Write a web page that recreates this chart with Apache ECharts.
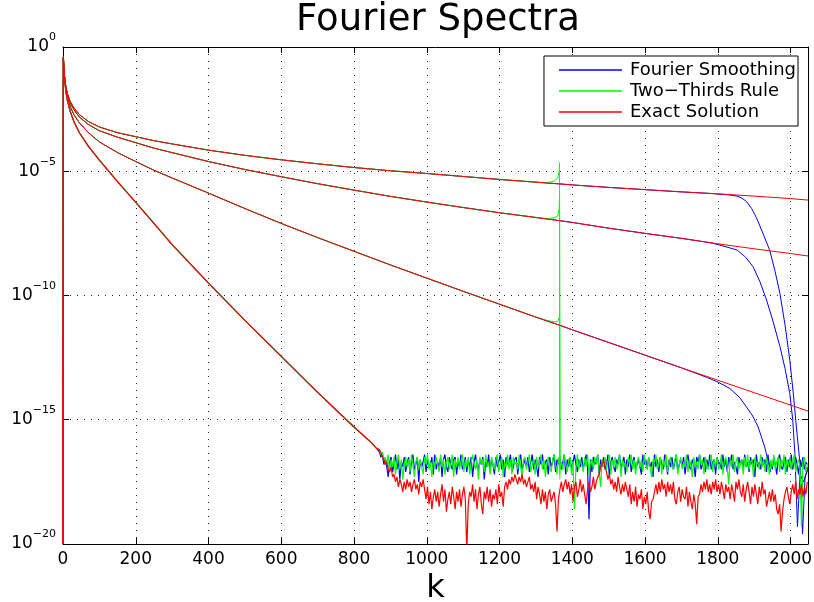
<!DOCTYPE html>
<html><head><meta charset="utf-8">
<script src="https://cdn.jsdelivr.net/npm/echarts@6/dist/echarts.min.js"></script>
<style>html,body{margin:0;padding:0;background:#fff}#c{width:814px;height:602px}</style>
</head><body><div id="c"></div>
<script>
// ---- data (values stored as log10 of the spectral magnitude) ----
const seriesNames = ['Fourier Smoothing', 'Two\u2212Thirds Rule', 'Exact Solution'];
const xTickValues = [0, 200, 400, 600, 800, 1000, 1200, 1400, 1600, 1800, 2000];
const yTickExponents = [0, -5, -10, -15, -20];

const kExact = [0,1,2,3,5,8,12,20,30,45,70,100,150,200,250,300,400,500,600,700,800,900,1000,1100,1200,1300,1366,1400,1500,1600,1700,1800,1900,2000,2048];
const exactA = [-20,-0.4,-0.72,-0.95,-1.3,-1.6,-1.88,-2.2,-2.45,-2.72,-3.0,-3.22,-3.45,-3.61,-3.77,-3.9,-4.15,-4.36,-4.54,-4.70,-4.85,-4.98,-5.09,-5.21,-5.33,-5.44,-5.51,-5.55,-5.65,-5.74,-5.83,-5.91,-6.0,-6.1,-6.16];
const exactB = [-20,-0.4,-0.73,-0.97,-1.32,-1.62,-1.91,-2.25,-2.52,-2.82,-3.12,-3.37,-3.63,-3.85,-4.07,-4.25,-4.61,-4.93,-5.22,-5.5,-5.76,-6.01,-6.24,-6.46,-6.67,-6.86,-6.99,-7.06,-7.29,-7.5,-7.7,-7.92,-8.12,-8.31,-8.41];
const exactC = [-20,-0.4,-0.74,-0.98,-1.36,-1.7,-2.0,-2.4,-2.72,-3.05,-3.45,-3.82,-4.25,-4.61,-4.96,-5.27,-5.88,-6.5,-7.10,-7.67,-8.22,-8.77,-9.30,-9.83,-10.35,-10.87,-11.2,-11.38,-11.89,-12.4,-12.91,-13.41,-13.91,-14.41,-14.65];

const kD = [0,1,2,3,5,8,12,20,30,45,70,100,150,200,250,300,400,500,600,700,800,850,862];
const exactD = [-20,-0.4,-0.75,-1.0,-1.4,-1.8,-2.15,-2.6,-3.0,-3.45,-4.0,-4.55,-5.42,-6.25,-7.1,-7.95,-9.5,-11.0,-12.45,-13.9,-15.29,-15.95,-16.15];

// Fourier smoothing roll-off tails
const kBlueTailA = [1830,1853,1866,1879,1893,1906,1925,1943,1957,1971,1985,1998,2008,2016,2027,2033,2040,2048];
const blueTailA  = [-5.95,-6.0,-6.08,-6.22,-6.5,-6.86,-7.53,-8.19,-9.0,-9.93,-11.2,-12.6,-14.0,-15.29,-16.9,-19.6,-17.3,-17.0];
const kBlueTailB = [1750,1787,1820,1853,1876,1897,1916,1934,1952,1971,1985,1998,2006,2012,2019,2026,2036,2048];
const blueTailB  = [-7.81,-7.9,-8.03,-8.17,-8.45,-8.84,-9.45,-10.18,-11.05,-12.06,-12.95,-13.94,-15.0,-16.35,-19.3,-17.2,-17.5,-16.9];
const kBlueTailC = [1735,1769,1800,1833,1860,1879,1896,1911,1929,1938,1946];
const blueTailC  = [-13.1,-13.29,-13.48,-13.74,-14.1,-14.49,-14.85,-15.29,-16.1,-16.63,-17.1];

// Two-thirds rule cut-off tails
const kGreenTail = [1330,1350,1360,1364,1365,1366];
const greenTailA = [-5.46,-5.4,-5.28,-5.0,-4.65,-17.0];
const greenTailB = [-6.9,-6.88,-6.8,-6.5,-6.02,-17.2];
const greenTailC = [-11.0,-11.06,-11.04,-10.98,-10.85,-17.4];

// round-off noise floor, k = 870, 874, ... (step 4)
const noiseK0 = 870, noiseStep = 4;
const blueNoise = [
 -16.3,-16.5,-16.4,-16.8,-16.6,-16.9,-17.3,-16.7,-16.5,-17.1,
 -16.8,-16.4,-17.0,-16.6,-17.4,-16.7,-16.9,-16.5,-17.1,-16.8,
 -16.5,-17.2,-16.7,-16.4,-17.0,-16.8,-16.5,-17.5,-16.6,-16.9,
 -16.7,-16.4,-17.1,-16.6,-16.9,-16.8,-16.5,-17.2,-16.4,-17.0,
 -16.7,-16.9,-16.5,-17.3,-16.6,-16.4,-16.9,-17.1,-16.5,-16.8,
 -17.0,-16.6,-16.5,-17.2,-16.7,-16.9,-16.4,-17.0,-16.8,-16.5,
 -17.1,-16.6,-16.9,-16.5,-17.3,-16.7,-16.4,-16.9,-17.0,-16.6,
 -16.8,-16.5,-17.4,-16.7,-16.9,-16.4,-17.1,-16.6,-16.8,-17.2,
 -16.5,-16.9,-16.7,-16.4,-17.0,-16.6,-17.3,-16.5,-16.8,-16.7,
 -16.4,-17.1,-16.9,-16.6,-16.5,-17.2,-16.7,-16.4,-17.0,-16.8,
 -16.6,-16.9,-16.5,-17.1,-16.7,-16.4,-17.0,-16.6,-16.9,-17.3,
 -16.5,-16.8,-16.4,-17.0,-16.7,-16.6,-17.2,-16.5,-16.9,-16.7,
 -16.4,-17.1,-16.6,-16.8,-16.5,-17.0,-16.7,-16.4,-17.2,-16.6,
 -16.9,-16.5,-17.0,-16.7,-16.4,-16.8,-17.1,-16.6,-16.9,-16.5,
 -17.0,-16.7,-16.4,-16.9,-19.0,-16.6,-17.1,-16.5,-16.8,-16.7,
 -16.4,-17.2,-16.6,-16.9,-16.5,-17.0,-16.8,-16.4,-17.3,-16.7,
 -16.5,-16.9,-17.1,-16.6,-16.8,-16.4,-17.0,-16.7,-16.5,-17.2,
 -16.6,-16.9,-16.4,-17.1,-16.7,-16.5,-17.0,-16.8,-16.6,-16.9,
 -17.2,-16.4,-16.8,-16.6,-17.0,-16.5,-16.9,-16.7,-17.3,-16.4,
 -16.9,-16.6,-17.1,-16.5,-16.8,-17.0,-16.4,-16.7,-17.2,-16.6,
 -16.9,-16.5,-17.0,-16.7,-16.4,-17.1,-16.8,-16.6,-16.9,-16.5,
 -17.2,-16.7,-16.4,-16.9,-17.0,-16.6,-16.8,-17.3,-16.5,-16.7,
 -16.4,-17.0,-16.8,-16.5,-17.1,-16.6,-16.9,-16.4,-17.0,-16.7,
 -16.6,-17.2,-16.5,-16.8,-16.7,-17.0,-16.4,-16.9,-16.6,-17.1,
 -16.5,-16.8,-16.4,-17.0,-16.7,-16.9,-17.2,-16.5,-16.8,-16.6,
 -17.0,-16.4,-16.9,-16.7,-17.1,-16.5,-16.8,-16.6,-17.3,-16.4,
 -16.9,-16.7,-17.0,-16.5,-16.8,-16.6,-17.1,-16.4,-16.9,-16.7,
 -17.0,-16.5,-16.8,-17.2,-16.6,-16.4,-16.9,-17.0,-16.7,-16.5,
 -17.1,-16.6,-16.9,-16.4,-17.0,-16.7,-16.5,-16.8,-17.2,-16.6,
 -16.9,-16.5,-17.0,-16.7,-16.8];
const greenNoise = [
 -16.2,-16.4,-16.3,-16.6,-16.5,-16.8,-16.4,-17.1,-16.6,-16.9,
 -16.5,-17.2,-16.7,-16.4,-17.0,-16.6,-17.4,-16.8,-16.5,-16.9,
 -16.6,-17.1,-16.4,-16.8,-17.3,-16.7,-16.5,-17.0,-16.6,-16.9,
 -17.2,-16.5,-16.8,-16.4,-17.0,-16.7,-17.3,-16.6,-16.9,-16.5,
 -16.8,-17.1,-16.4,-16.9,-16.6,-17.2,-16.7,-16.5,-17.0,-16.8,
 -16.4,-17.3,-16.6,-16.9,-16.5,-17.0,-16.7,-16.4,-17.1,-16.6,
 -16.9,-16.5,-17.2,-16.7,-16.4,-16.8,-17.0,-16.6,-17.4,-16.5,
 -16.8,-16.6,-17.1,-16.4,-16.9,-16.7,-17.2,-16.5,-16.8,-17.0,
 -16.6,-16.4,-17.1,-16.8,-16.5,-17.3,-16.7,-16.9,-16.4,-17.0,
 -16.6,-17.2,-16.5,-16.8,-16.7,-17.0,-16.4,-16.9,-17.3,-16.6,
 -16.5,-17.0,-16.7,-16.4,-17.1,-16.8,-16.6,-17.2,-16.5,-16.9,
 -16.7,-16.4,-17.0,-16.6,-17.3,-16.8,-16.5,-16.9,-17.1,-16.6,
 -16.4,-16.8,-17.2,-16.5,-16.9,-16.7,-17.0,-16.4,-16.8,-17.1,
 -16.6,-16.5,-17.2,-16.7,-18.6,-16.9,-16.4,-17.0,-16.6,-16.8,
 -17.1,-16.5,-16.9,-16.4,-17.2,-16.7,-16.6,-17.0,-16.5,-16.8,
 -16.4,-17.1,-17.7,-16.6,-16.9,-16.5,-17.0,-16.7,-16.4,-17.2,
 -16.6,-16.9,-16.5,-17.0,-16.8,-16.4,-17.3,-16.6,-16.9,-16.7,
 -17.1,-16.5,-16.8,-16.4,-17.0,-16.6,-17.2,-16.7,-16.5,-16.9,
 -16.6,-17.1,-16.4,-16.8,-17.0,-16.5,-16.9,-17.3,-16.6,-16.7,
 -16.4,-17.0,-16.8,-16.5,-17.2,-16.6,-16.9,-16.4,-17.1,-16.7,
 -16.5,-16.9,-17.0,-16.6,-16.4,-17.2,-16.8,-16.5,-17.0,-16.7,
 -16.9,-16.4,-17.1,-16.6,-16.8,-17.3,-16.5,-16.9,-16.7,-17.0,
 -16.4,-16.8,-16.6,-17.2,-16.5,-16.9,-17.0,-16.7,-16.4,-17.1,
 -16.6,-16.9,-16.5,-17.0,-16.8,-16.4,-17.2,-16.7,-16.5,-16.9,
 -17.6,-16.6,-16.9,-16.4,-17.1,-16.7,-16.5,-17.0,-16.8,-16.6,
 -17.2,-16.5,-16.9,-16.4,-17.0,-16.7,-16.6,-17.3,-16.5,-16.8,
 -16.7,-17.0,-16.4,-16.9,-16.6,-17.1,-16.5,-16.8,-17.2,-16.6,
 -16.9,-16.4,-17.0,-16.7,-16.5,-17.1,-16.6,-16.8,-16.4,-17.2,
 -16.6,-16.9,-16.5,-17.0,-16.7,-16.4,-17.1,-16.8,-16.6,-16.9,
 -19.3,-16.7,-16.5,-17.1,-16.8];
const redNoise = [
 -16.2,-16.35,-16.5,-16.6,-16.8,-16.7,-17.0,-17.1,-16.9,-17.3,
 -17.2,-17.5,-17.3,-17.7,-17.4,-17.6,-17.9,-17.5,-17.8,-17.4,
 -17.7,-17.5,-17.9,-17.6,-17.4,-17.8,-17.6,-18.0,-17.5,-17.7,
 -17.4,-17.8,-18.2,-17.7,-18.4,-17.9,-18.6,-18.1,-17.8,-18.3,
 -17.9,-18.5,-18.0,-17.6,-18.3,-17.8,-18.7,-18.2,-17.9,-18.4,
 -17.7,-18.1,-18.6,-17.9,-18.3,-17.8,-18.5,-18.0,-17.7,-18.2,
 -20.3,-18.4,-17.9,-18.1,-17.6,-18.3,-17.8,-18.6,-18.0,-17.7,
 -18.4,-18.8,-17.9,-18.2,-17.7,-18.3,-17.8,-18.5,-18.0,-18.2,
 -17.8,-18.4,-17.6,-18.1,-17.9,-18.5,-17.7,-17.5,-17.8,-17.4,
 -17.6,-17.3,-17.5,-17.2,-17.4,-17.6,-17.3,-17.5,-17.2,-17.6,
 -17.4,-17.7,-17.5,-17.3,-17.8,-17.6,-17.9,-17.5,-18.2,-17.7,
 -18.0,-18.4,-17.8,-18.3,-17.9,-18.6,-18.0,-17.8,-18.3,-18.1,
 -17.9,-18.4,-19.5,-18.2,-17.8,-17.5,-17.9,-17.6,-17.4,-17.8,
 -17.5,-18.0,-17.6,-18.3,-17.7,-17.5,-18.1,-17.8,-17.4,-17.9,
 -17.6,-18.0,-18.4,-17.8,-17.5,-17.9,-17.7,-17.3,-17.8,-17.5,
 -17.3,-17.2,-16.9,-16.8,-16.6,-16.9,-17.1,-17.4,-17.2,-17.6,
 -17.4,-17.8,-17.5,-17.9,-17.3,-17.7,-18.0,-17.6,-17.9,-17.5,
 -17.8,-18.1,-17.6,-18.4,-17.9,-18.3,-17.7,-18.5,-18.0,-18.2,
 -17.8,-18.6,-18.1,-18.4,-17.9,-18.7,-19.0,-18.3,-18.2,-17.9,
 -17.6,-18.0,-17.5,-17.9,-17.4,-17.8,-17.6,-18.1,-17.5,-17.9,
 -17.6,-18.0,-17.5,-18.2,-18.4,-17.9,-17.7,-18.3,-17.8,-18.1,
 -18.2,-17.7,-18.5,-17.9,-18.3,-18.6,-18.0,-18.4,-19.2,-18.1,
 -18.0,-17.6,-17.9,-17.5,-17.8,-17.4,-17.9,-17.6,-18.0,-17.5,
 -17.8,-17.4,-17.9,-17.6,-18.0,-17.5,-17.8,-18.2,-17.6,-17.9,
 -17.7,-18.2,-17.6,-17.9,-18.3,-17.5,-17.8,-17.4,-17.9,-18.1,
 -17.6,-18.3,-17.8,-17.5,-17.9,-18.4,-17.7,-18.1,-17.6,-18.0,
 -18.4,-17.7,-18.1,-17.5,-18.0,-17.8,-18.5,-18.2,-17.9,-18.3,
 -17.8,-18.3,-18.0,-18.6,-18.8,-18.4,-19.5,-18.7,-18.2,-17.9,
 -17.7,-18.1,-18.4,-17.9,-17.6,-18.0,-17.5,-18.2,-17.8,-18.0,
 -17.6,-18.1,-17.7,-18.0,-17.5];

// ---- build point lists ----
const FONT = 'DejaVu Sans';
function pts(ks, logs) { return ks.map((k, i) => [k, Math.pow(10, logs[i])]); }
function upTo(ks, logs, kMax) {
  const out = [];
  ks.forEach((k, i) => { if (k <= kMax) out.push([k, Math.pow(10, logs[i])]); });
  return out;
}
function noisePts(logs) { return logs.map((v, i) => [noiseK0 + noiseStep * i, Math.pow(10, v)]); }

const BLUE = '#0000ff', GREEN = '#00ff00', RED = '#ff0000';
function line(name, color, data, width) {
  return { name, type: 'line', data, showSymbol: false, symbol: 'none', color,
    lineStyle: { color, width: width || 1 }, emphasis: { disabled: true }, silent: true, clip: true };
}

const series = [
  line(seriesNames[0], BLUE, upTo(kExact, exactA, 1800).concat(pts(kBlueTailA, blueTailA))),
  line(seriesNames[0], BLUE, upTo(kExact, exactB, 1700).concat(pts(kBlueTailB, blueTailB))),
  line(seriesNames[0], BLUE, upTo(kExact, exactC, 1700).concat(pts(kBlueTailC, blueTailC))),
  line(seriesNames[0], BLUE, pts(kD, exactD).concat(noisePts(blueNoise)), 1.2),
  line(seriesNames[1], GREEN, upTo(kExact, exactA, 1300).concat(pts(kGreenTail, greenTailA))),
  line(seriesNames[1], GREEN, upTo(kExact, exactB, 1300).concat(pts(kGreenTail, greenTailB))),
  line(seriesNames[1], GREEN, upTo(kExact, exactC, 1300).concat(pts(kGreenTail, greenTailC))),
  line(seriesNames[1], GREEN, pts(kD, exactD).concat(noisePts(greenNoise)), 1.2),
  line(seriesNames[2], RED, pts(kExact, exactA)),
  line(seriesNames[2], RED, pts(kExact, exactB)),
  line(seriesNames[2], RED, pts(kExact, exactC)),
  line(seriesNames[2], RED, pts(kD, exactD).concat(noisePts(redNoise)), 1.2)
];

const gridLine = { show: true, lineStyle: { color: '#222', width: 1, type: [1, 6] } };
const axLine = { show: true, onZero: false, lineStyle: { color: '#000', width: 1 } };
const tick = { show: true, inside: true, length: 6, lineStyle: { color: '#000' } };

const chart = echarts.init(document.getElementById('c'), null, { renderer: 'canvas' });
chart.setOption({
  animation: false,
  backgroundColor: '#fff',
  title: { text: 'Fourier Spectra', left: 433, textAlign: 'center', top: -3,
    textStyle: { fontFamily: FONT, fontSize: 37, fontWeight: 'normal', color: '#000' } },
  grid: { left: 63, right: 6, top: 47, bottom: 58, containLabel: false, outerBoundsMode: 'none' },
  legend: {
    data: seriesNames, orient: 'vertical', top: 56, right: 16,
    icon: 'rect', itemWidth: 63, itemHeight: 1.5, itemGap: 1,
    padding: [4, 2, 4, 15], backgroundColor: '#fff', borderColor: '#000', borderWidth: 1,
    textStyle: { fontFamily: FONT, fontSize: 18, lineHeight: 20, color: '#000', padding: [0, 0, 0, 3] },
    selectedMode: false, z: 10
  },
  xAxis: [
    { type: 'value', min: 0, max: 2048, interval: 200, position: 'bottom',
      name: 'k', nameLocation: 'middle', nameGap: 23,
      nameTextStyle: { fontFamily: FONT, fontSize: 32, color: '#000' },
      axisLine: axLine, axisTick: tick, splitLine: gridLine,
      axisLabel: { margin: 7, fontFamily: FONT, fontSize: 17, color: '#000',
        formatter: v => (xTickValues.indexOf(v) >= 0 ? String(v) : '') } },
    { type: 'value', min: 0, max: 2048, interval: 200, position: 'top',
      axisLine: axLine, axisTick: tick, splitLine: { show: false }, axisLabel: { show: false } }
  ],
  yAxis: [
    { type: 'log', logBase: 10, min: 1e-20, max: 1, interval: 5, position: 'left',
      axisLine: axLine, axisTick: tick, splitLine: gridLine, minorTick: { show: false },
      axisLabel: { margin: 7, color: '#000',
        formatter: v => {
          const e = Math.round(Math.log10(v));
          if (yTickExponents.indexOf(e) < 0) return '';
          return '{b|10}{e|' + (e < 0 ? '\u2212' + (-e) : String(e)) + '}';
        },
        rich: {
          b: { fontFamily: FONT, fontSize: 17, lineHeight: 30, color: '#000' },
          e: { fontFamily: FONT, fontSize: 11, lineHeight: 12, verticalAlign: 'top', color: '#000' }
        } } },
    { type: 'log', logBase: 10, min: 1e-20, max: 1, interval: 5, position: 'right',
      axisLine: axLine, axisTick: tick, splitLine: { show: false }, axisLabel: { show: false } }
  ],
  series: series
});
</script>
</body></html>
